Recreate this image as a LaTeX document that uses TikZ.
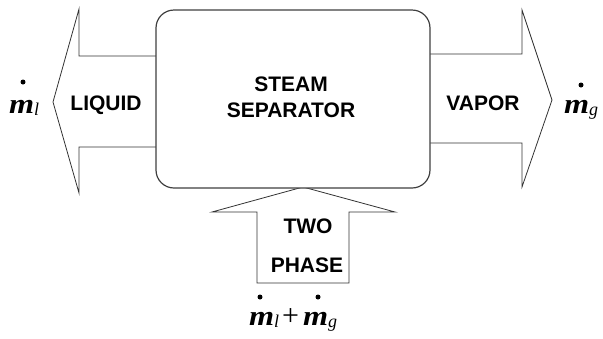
\documentclass[tikz,border=0pt]{standalone}
\usepackage{fontspec}
\setmainfont{Liberation Serif}
\newfontfamily\labfont{Liberation Sans}
\newcommand{\mm}{\scalebox{1.15}[1]{\fontsize{28}{28}\selectfont\bfseries\itshape m}}
\newcommand{\msub}[1]{\raisebox{-2pt}{\fontsize{18}{18}\selectfont\itshape #1}}
\tikzset{
  flow/.style={draw=black!80, line width=0.8pt, fill=white, line join=miter},
  sepbox/.style={draw=black!75, line width=1.2pt, rounded corners=18pt, fill=white, inner sep=0},
  lbl/.style={font=\labfont\bfseries\fontsize{21}{24}\selectfont, inner sep=0, anchor=base},
  mlbl/.style={inner sep=0, anchor=base west},
  mdot/.style={circle, fill=black, inner sep=0, minimum size=5pt}
}
\begin{document}
\begin{tikzpicture}[x=1pt,y=-1pt]
\useasboundingbox (0,0) rectangle (603,338);
% block arrows
\draw[flow] (156,56) -- (79,56) -- (79,9) -- (53,102) -- (79,193) -- (79,147) -- (156,147);
\draw[flow] (430,54) -- (522,54) -- (522,10) -- (552,100) -- (522,187) -- (522,143) -- (430,143);
\draw[flow] (257,283) -- (257,212) -- (212,212) -- (303,187) -- (395,212) -- (349,212) -- (349,283) -- cycle;
% separator
\node[sepbox, minimum width=274pt, minimum height=178pt] (sep) at (293,99) {};
\node[lbl] (steam) at (291,91) {STEAM};
\node[lbl] (separator) at (291,117) {SEPARATOR};
\node[lbl] (liquid) at (106,110) {LIQUID};
\node[lbl] (vapor) at (483,110) {VAPOR};
\node[lbl] (two) at (308,233) {TWO};
\node[lbl] (phase) at (307,272) {PHASE};
% flow rates
\node[mlbl] (ml) at (9,113) {\mm\msub{l}};
\node[mdot] (dl) at (23,82) {};
\node[mlbl] (mg) at (564,113) {\mm\msub{g}};
\node[mdot] (dg) at (581,85) {};
\node[mlbl] (mt) at (249,325) {\mm\msub{l}\hspace{3pt}{\fontsize{30}{30}\selectfont +}\hspace{4pt}\mm\msub{g}};
\node[mdot] (d1) at (260,297) {};
\node[mdot] (d2) at (318,297) {};
\end{tikzpicture}
\end{document}
